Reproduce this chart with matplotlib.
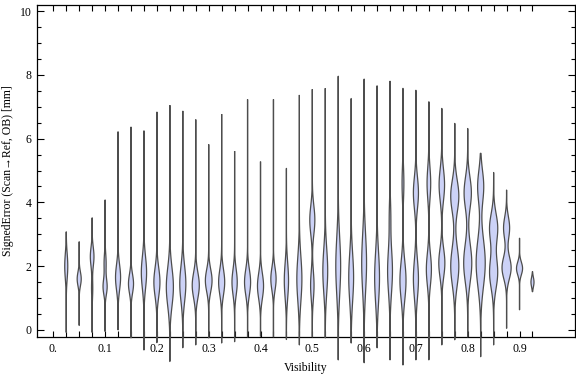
import numpy as np
import matplotlib
matplotlib.use("Agg")
import matplotlib.pyplot as plt

# visibility bins (one violin per bin)
visibility = [0.025, 0.05, 0.075, 0.1, 0.125, 0.15, 0.175, 0.2, 0.225, 0.25,
              0.275, 0.3, 0.325, 0.35, 0.375, 0.4, 0.425, 0.45, 0.475, 0.5,
              0.525, 0.55, 0.575, 0.6, 0.625, 0.65, 0.675, 0.7, 0.725, 0.75,
              0.775, 0.8, 0.825, 0.85, 0.875, 0.9, 0.925]

# smallest / largest signed error in each bin [mm]
err_min = [-0.08, 0.14, -0.08, -0.05, 0.0, -0.25, -0.63, -0.4, -0.99, -0.56,
           -0.47, -0.25, -0.41, -0.37, -0.22, -0.2, -0.22, -0.3, -0.47, -0.22,
           -0.25, -0.94, -0.41, -1.03, -0.56, -0.94, -1.1, -0.94, -0.94, -0.47,
           -0.31, -0.22, -0.84, -0.47, 0.05, 0.63, 1.2]
err_max = [3.08, 2.77, 3.52, 4.08, 6.22, 6.37, 6.25, 6.84, 7.05, 6.87,
           6.6, 5.82, 6.77, 5.61, 7.23, 5.28, 7.23, 5.07, 7.37, 7.55,
           7.58, 7.96, 7.26, 7.87, 7.66, 7.81, 7.58, 7.52, 7.16, 6.95,
           6.48, 6.32, 5.54, 4.94, 4.39, 2.88, 1.83]

# density modes per bin: (centre [mm], spread [mm], relative density)
modes = [
    [(2.0, 0.4, 1.5)],
    [(1.6, 0.22, 2.0)],
    [(2.3, 0.3, 1.8), (1.3, 0.3, 0.6)],
    [(1.35, 0.25, 2.0), (2.1, 0.3, 1.0)],
    [(1.65, 0.4, 2.5)],
    [(1.45, 0.3, 2.5)],
    [(1.8, 0.5, 2.6)],
    [(1.5, 0.45, 3.0)],
    [(1.35, 0.6, 3.5)],
    [(1.45, 0.55, 3.0)],
    [(1.4, 0.4, 3.5)],
    [(1.55, 0.35, 3.3)],
    [(1.5, 0.4, 3.0)],
    [(1.5, 0.4, 2.6)],
    [(1.5, 0.4, 3.0)],
    [(1.38, 0.4, 3.0)],
    [(1.6, 0.35, 2.6)],
    [(1.55, 0.55, 2.1)],
    [(1.6, 0.7, 2.5)],
    [(3.45, 0.45, 2.5), (1.4, 0.45, 1.7)],
    [(1.85, 0.7, 2.4)],
    [(2.0, 0.9, 2.4)],
    [(1.65, 0.75, 2.4)],
    [(2.1, 0.9, 2.4)],
    [(1.65, 0.8, 2.4)],
    [(1.85, 0.7, 2.4), (3.6, 0.5, 0.7)],
    [(1.55, 0.6, 3.0), (4.6, 0.5, 0.9)],
    [(4.3, 0.5, 2.5), (1.6, 0.6, 2.5)],
    [(4.6, 0.5, 1.8), (1.9, 0.5, 2.5)],
    [(4.55, 0.5, 2.7), (2.1, 0.45, 3.0)],
    [(4.2, 0.5, 4.0), (2.0, 0.6, 4.0)],
    [(4.3, 0.5, 3.6), (2.1, 0.6, 4.0)],
    [(4.5, 0.5, 3.0), (2.1, 0.75, 4.5)],
    [(3.2, 0.45, 4.0), (1.8, 0.5, 4.0)],
    [(3.2, 0.35, 3.0), (1.95, 0.35, 4.5)],
    [(1.93, 0.2, 3.0)],
    [(1.5, 0.15, 1.5)],
]

x_labels = ["0.", "0.1", "0.2", "0.3", "0.4", "0.5", "0.6", "0.7", "0.8", "0.9"]

serif = ["Liberation Serif", "DejaVu Serif"]
plt.rcParams["font.family"] = serif

fig = plt.figure(figsize=(5.76, 3.77), dpi=100)
ax = fig.add_axes([0.0642, 0.1061, 0.9340, 0.8806])

width_scale = 0.00195  # relative density -> x units
fill_col = "#ccd2f7"
edge_col = "#4d4d4d"

for x, lo, hi, mm in zip(visibility, err_min, err_max, modes):
    y = np.linspace(lo, hi, 300)
    hw = np.zeros_like(y)
    for c, s, w in mm:
        hw += w * np.exp(-0.5 * ((y - c) / s) ** 2)
    hw *= width_scale
    xs = np.concatenate([x - hw, (x + hw)[::-1]])
    ys = np.concatenate([y, y[::-1]])
    ax.fill(xs, ys, facecolor=fill_col, edgecolor=edge_col, linewidth=0.9,
            clip_on=False, zorder=3)

ax.set_xlim(-0.0315, 1.007)
ax.set_ylim(-0.22, 10.19)

ax.set_xticks([0.0] + visibility)
xl = [""] * (len(visibility) + 1)
for k, lab in enumerate(x_labels):
    xl[4 * k] = lab
ax.set_xticklabels(xl)
ax.set_yticks([0, 2, 4, 6, 8, 10])
ax.set_yticks(np.arange(0, 10.01, 0.5), minor=True)

ax.tick_params(axis="both", which="both", direction="in", top=True,
               right=True, labelsize=8.5, width=0.8, color="black")
ax.tick_params(axis="x", which="major", length=4, pad=4)
ax.tick_params(axis="y", which="major", length=5, pad=4)
ax.tick_params(axis="y", which="minor", length=3)
for sp in ax.spines.values():
    sp.set_linewidth(0.9)

ax.set_xlabel("Visibility", fontsize=8.5, labelpad=5)
ax.set_ylabel("SignedError (Scan\u2192Ref, OB) [mm]", fontsize=8.5, labelpad=4)

fig.savefig("out.png", dpi=100)
